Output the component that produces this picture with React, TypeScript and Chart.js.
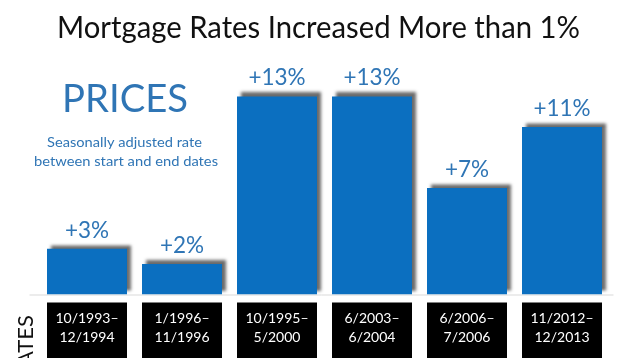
import React, { useEffect, useRef } from "react";
import { Chart, registerables } from "chart.js";

Chart.register(...registerables);

const categories = [
  ["10/1993–", "12/1994"],
  ["1/1996–", "11/1996"],
  ["10/1995–", "5/2000"],
  ["6/2003–", "6/2004"],
  ["6/2006–", "7/2006"],
  ["11/2012–", "12/2013"],
];
const priceChange = [3, 2, 13, 13, 7, 11];
const valueLabels = ["+3%", "+2%", "+13%", "+13%", "+7%", "+11%"];

const titleText = "Mortgage Rates Increased More than 1%";
const headingText = "PRICES";
const noteLines = ["Seasonally adjusted rate", "between start and end dates"];
const axisText = "RATES";

const FONT = "Lato, 'Open Sans', sans-serif";
const BAR_BLUE = "#0b6fc0";
const TEXT_BLUE = "#2f75b5";

const shadowPlugin = {
  id: "barShadow",
  beforeDatasetsDraw(chart: any) {
    const ctx = chart.ctx;
    ctx.save();
    ctx.shadowColor = "rgba(70,70,70,0.8)";
    ctx.shadowOffsetX = 4;
    ctx.shadowOffsetY = -4;
    ctx.shadowBlur = 3;
  },
  afterDatasetsDraw(chart: any) {
    chart.ctx.restore();
  },
};

const fitText = (ctx: any, text: string, x: number, y: number, width: number) => {
  const m = ctx.measureText(text).width;
  ctx.save();
  ctx.translate(x, y);
  ctx.scale(width / m, 1);
  ctx.fillText(text, 0, 0);
  ctx.restore();
};

const decorPlugin = {
  id: "decor",
  beforeDatasetsDraw(chart: any) {
    const ctx = chart.ctx;
    const area = chart.chartArea;
    ctx.save();
    ctx.strokeStyle = "#d9d9d9";
    ctx.lineWidth = 1;
    ctx.beginPath();
    ctx.moveTo(area.left - 10, area.bottom + 0.5);
    ctx.lineTo(area.right + 4, area.bottom + 0.5);
    ctx.stroke();
    ctx.restore();
  },
  afterDraw(chart: any) {
    const ctx = chart.ctx;
    const meta = chart.getDatasetMeta(0);
    const area = chart.chartArea;
    ctx.save();

    // title
    ctx.fillStyle = "#111";
    ctx.font = `31px ${FONT}`;
    ctx.textAlign = "center";
    ctx.textBaseline = "alphabetic";
    fitText(ctx, titleText, 318.5, 38, 523);

    // heading
    ctx.fillStyle = TEXT_BLUE;
    ctx.font = `38px ${FONT}`;
    fitText(ctx, headingText, 125, 112, 126);
    ctx.font = `14px ${FONT}`;
    fitText(ctx, noteLines[0], 124.5, 147, 155);
    fitText(ctx, noteLines[1], 126, 166, 184);

    // value labels and date boxes
    meta.data.forEach((bar: any, i: number) => {
      const w = bar.width;
      const left = bar.x - w / 2;
      ctx.fillStyle = TEXT_BLUE;
      ctx.font = `22.5px ${FONT}`;
      ctx.textAlign = "center";
      ctx.textBaseline = "alphabetic";
      ctx.fillText(valueLabels[i], bar.x, bar.y - 11);

      ctx.fillStyle = "#000";
      ctx.fillRect(left, area.bottom + 8, w, 80);
      ctx.fillStyle = "#fff";
      ctx.font = `14px ${FONT}`;
      ctx.textBaseline = "middle";
      ctx.fillText(categories[i][0], bar.x, 318);
      ctx.fillText(categories[i][1], bar.x, 337);
    });

    // rotated axis word
    ctx.translate(33, 315);
    ctx.rotate(-Math.PI / 2);
    ctx.fillStyle = "#111";
    ctx.font = `22px ${FONT}`;
    ctx.textAlign = "right";
    ctx.textBaseline = "alphabetic";
    ctx.fillText(axisText, 0, 0);
    ctx.restore();
  },
};

export default function App() {
  const ref = useRef<HTMLCanvasElement>(null);
  useEffect(() => {
    if (!ref.current) return;
    const chart = new Chart(ref.current, {
      type: "bar",
      data: {
        labels: categories.map((c) => c.join(" ")),
        datasets: [
          {
            data: priceChange,
            backgroundColor: BAR_BLUE,
            borderWidth: 0,
            barPercentage: 0.842,
            categoryPercentage: 1,
          },
        ],
      },
      options: {
        animation: false,
        responsive: false,
        devicePixelRatio: 1,
        layout: { padding: { left: 39.5, right: 26.5, top: 50.8, bottom: 63.5 } },
        plugins: {
          legend: { display: false },
          tooltip: { enabled: false },
          title: { display: false },
        },
        scales: {
          x: { display: false },
          y: { display: false, min: 0, max: 16 },
        },
      },
      plugins: [decorPlugin, shadowPlugin],
    });
    return () => chart.destroy();
  }, []);
  return (
    <div style={{ position: "absolute", left: 0, top: 0, width: 636, height: 358, background: "#fff", overflow: "hidden" }}>
      <canvas ref={ref} width={636} height={358} style={{ display: "block" }} />
    </div>
  );
}
